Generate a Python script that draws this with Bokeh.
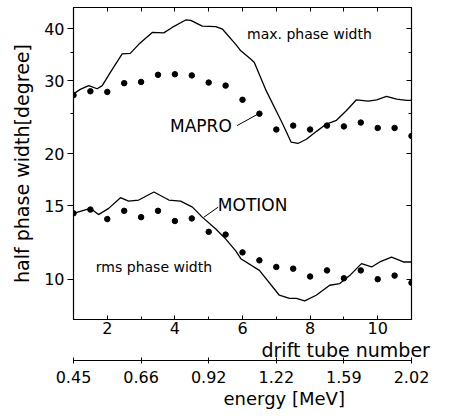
from bokeh.plotting import figure
from bokeh.models import LogAxis, LinearAxis, FixedTicker, Label, NumeralTickFormatter, Title
from bokeh.embed import file_html
from bokeh.resources import INLINE

# ---------------- data ----------------
# MOTION simulation, max. phase width (solid line)
motion_max_x = [1.0, 1.2, 1.45, 1.7, 1.85, 2.1, 2.44, 2.68, 2.93, 3.33, 3.67, 3.92, 4.32, 4.47,
                4.81, 5.21, 5.41, 5.8, 5.95, 6.25, 6.35, 6.7, 7.19, 7.44, 7.64, 7.89, 8.2,
                8.48, 8.78, 9.07, 9.37, 9.72, 9.97, 10.26, 10.56, 10.86, 11.0]
motion_max_y = [27.9, 28.6, 29.2, 28.7, 29.2, 31.5, 34.8, 34.9, 36.7, 39.2, 39.1, 40.3, 42.0, 41.9,
                40.6, 40.5, 39.9, 36.7, 35.4, 33.8, 33.2, 28.4, 23.6, 21.35, 21.2, 21.7, 22.7,
                23.6, 24.1, 25.4, 27.0, 26.8, 27.0, 27.5, 27.1, 26.9, 26.9]

# MOTION simulation, rms phase width (solid line)
motion_rms_x = [1.0, 1.25, 1.5, 1.74, 2.04, 2.39, 2.63, 2.93, 3.38, 3.82, 4.17, 4.52, 4.81, 5.21,
                5.5, 5.8, 5.95, 6.5, 7.09, 7.39, 7.59, 7.84, 8.18, 8.58, 8.88, 9.17, 9.52, 9.82,
                10.06, 10.41, 10.76, 11.0]
motion_rms_y = [14.4, 14.6, 14.8, 14.3, 14.8, 15.7, 15.4, 15.5, 16.2, 15.5, 15.4, 14.9, 14.1, 13.2,
                12.5, 11.7, 11.2, 10.5, 9.15, 8.99, 8.99, 8.87, 9.15, 9.67, 9.76, 10.2, 10.9, 10.7,
                11.0, 11.3, 11.0, 11.0]

# MAPRO results (dots), every half drift tube
mapro_x = [1.0, 1.5, 2.0, 2.5, 3.0, 3.5, 4.0, 4.5, 5.0, 5.5, 6.0, 6.5, 7.0, 7.5, 8.0, 8.5,
           9.0, 9.5, 10.0, 10.5, 11.0]
mapro_max = [27.7, 28.3, 28.2, 29.6, 29.8, 31.0, 31.1, 30.9, 29.7, 29.2, 27.0, 25.0, 22.9, 23.4,
             22.9, 23.4, 23.3, 23.8, 23.1, 23.1, 22.1]
mapro_rms = [14.4, 14.7, 13.95, 14.6, 14.1, 14.6, 13.8, 14.0, 13.0, 12.8, 11.6, 11.1, 10.7, 10.6,
             10.15, 10.5, 10.05, 10.5, 10.0, 10.2, 9.8]

# axes
y_ticks = [10, 15, 20, 30, 40]
y_minor = [25, 35]
x_ticks = [2, 4, 6, 8, 10]
x_minor = [1, 3, 5, 7, 9, 11]
all_tubes = [1, 2, 3, 4, 5, 6, 7, 8, 9, 10, 11]
energy_tubes = [1, 3, 5, 7, 9, 11]
energy_labels = ["0.45", "0.66", "0.92", "1.22", "1.59", "2.02"]

# leader lines of the series labels
mapro_leader_x = [5.84, 6.44]
mapro_leader_y = [23.4, 24.9]
motion_leader_x = [4.86, 5.28]
motion_leader_y = [14.1, 14.9]

FONT = "DejaVu Sans"

p = figure(width=448, height=414, y_axis_type="log", x_range=(1, 11), y_range=(8, 45),
           output_backend="svg", toolbar_location=None,
           min_border_left=73, min_border_right=37, min_border_top=7, min_border_bottom=95)
p.grid.visible = False
p.outline_line_color = "black"
p.outline_line_width = 1.2
p.background_fill_color = "white"
p.border_fill_color = "white"

# left axis
ya = p.yaxis[0]
ya.ticker = FixedTicker(ticks=y_ticks, minor_ticks=y_minor)
ya.formatter = NumeralTickFormatter(format="0")
ya.axis_label = "half phase width[degree]"
ya.axis_label_text_font = FONT
ya.axis_label_text_font_size = "19px"
ya.axis_label_text_font_style = "normal"
ya.axis_label_text_color = "black"
ya.axis_label_standoff = 8
ya.major_label_text_font = FONT
ya.major_label_text_font_size = "16px"
ya.major_label_text_color = "black"
ya.major_label_standoff = 3
ya.major_tick_out = 6
ya.major_tick_in = 0
ya.minor_tick_out = 3
ya.minor_tick_in = 0
ya.axis_line_color = "black"
ya.major_tick_line_color = "black"
ya.minor_tick_line_color = "black"

# bottom axis (drift tube number)
xa = p.xaxis[0]
xa.ticker = FixedTicker(ticks=x_ticks, minor_ticks=x_minor)
xa.major_label_text_font = FONT
xa.major_label_text_font_size = "16px"
xa.major_label_text_color = "black"
xa.major_label_standoff = 2
xa.major_tick_in = 4
xa.major_tick_out = 0
xa.minor_tick_in = 3
xa.minor_tick_out = 0
xa.axis_line_color = "black"
xa.major_tick_line_color = "black"
xa.minor_tick_line_color = "black"

# title of the drift tube axis, shifted right as in the original
p.add_layout(Title(text="drift tube number", align="left", offset=188, standoff=0,
                   text_font=FONT, text_font_size="19px", text_font_style="normal",
                   text_color="black"), "below")

# energy axis
ea = LinearAxis(ticker=FixedTicker(ticks=energy_tubes),
                major_label_overrides={t: s for t, s in zip(energy_tubes, energy_labels)},
                major_label_text_font=FONT, major_label_text_font_size="16px",
                major_label_text_color="black",
                major_label_standoff=7, major_tick_in=3, major_tick_out=3,
                minor_tick_line_color=None, axis_line_color="black",
                major_tick_line_color="black")
p.add_layout(ea, "below")
p.add_layout(Title(text="energy [MeV]", align="left", offset=150, standoff=0,
                   text_font=FONT, text_font_size="18px", text_font_style="normal",
                   text_color="black"), "below")

# top and right tick-only axes
top = LinearAxis(ticker=FixedTicker(ticks=all_tubes),
                 major_label_overrides={t: "" for t in all_tubes},
                 major_label_text_font_size="0px", major_label_standoff=0,
                 major_tick_in=4, major_tick_out=0, minor_tick_line_color=None,
                 axis_line_color="black", major_tick_line_color="black")
p.add_layout(top, "above")
right = LogAxis(ticker=FixedTicker(ticks=y_ticks, minor_ticks=y_minor),
                major_label_overrides={t: "" for t in y_ticks},
                major_label_text_font_size="0px", major_label_standoff=0,
                major_tick_in=5, major_tick_out=0, minor_tick_in=3, minor_tick_out=0,
                axis_line_color="black", major_tick_line_color="black",
                minor_tick_line_color="black")
p.add_layout(right, "right")

# curves
p.line(motion_max_x, motion_max_y, line_color="black", line_width=1.3)
p.line(motion_rms_x, motion_rms_y, line_color="black", line_width=1.3)
p.scatter(mapro_x, mapro_max, size=5.5, color="black")
p.scatter(mapro_x, mapro_rms, size=5.5, color="black")
p.line(mapro_leader_x, mapro_leader_y, line_color="black", line_width=1)
p.line(motion_leader_x, motion_leader_y, line_color="black", line_width=1)

# text labels
def lab(x, y, text, size):
    p.add_layout(Label(x=x, y=y, text=text, text_font=FONT, text_font_size=size,
                       text_align="center", text_baseline="middle", text_color="black"))

lab(4.77, 23.4, "MAPRO", "17px")
lab(6.30, 15.05, "MOTION", "17px")
lab(7.98, 38.9, "max. phase width", "14px")
lab(3.38, 10.68, "rms phase width", "14px")

open("out.html", "w").write(file_html(p, INLINE))
